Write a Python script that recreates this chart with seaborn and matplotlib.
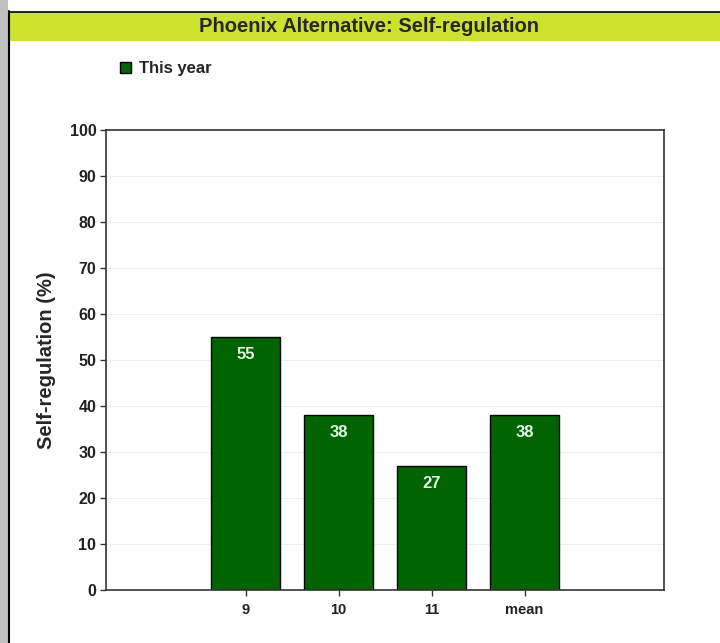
import matplotlib.pyplot as plt
from matplotlib.patches import Rectangle
from matplotlib.lines import Line2D
import seaborn as sns

categories = ['9', '10', '11', 'mean']
values = [55, 38, 27, 38]
series_name = 'This year'
title = 'Phoenix Alternative: Self-regulation'
y_label = 'Self-regulation (%)'

bar_color = '#006400'
title_bg = '#cce22c'

sns.set_style('white')
plt.rcParams['font.family'] = ['Liberation Sans', 'DejaVu Sans']

fig = plt.figure(figsize=(7.2, 6.43), dpi=100)
W, H = 720, 643

# page frame: gray strip on the left, title bar across the top
fig.patches.append(Rectangle((0, 0), 8 / W, 1, transform=fig.transFigure,
                             facecolor='#c0c0c0', edgecolor='none'))
fig.patches.append(Rectangle((10 / W, 1 - 41 / H), 1, 29 / H, transform=fig.transFigure,
                             facecolor=title_bg, edgecolor='none'))
fig.lines.append(Line2D([9 / W, 9 / W], [0, 1 - 11 / H], transform=fig.transFigure,
                        color='black', lw=1.5))
fig.lines.append(Line2D([9 / W, 1], [1 - 11.5 / H, 1 - 11.5 / H], transform=fig.transFigure,
                        color='black', lw=1.2))
fig.text(369 / W, 1 - 27 / H, title, ha='center', va='center',
         fontsize=14.5, fontweight='bold')

ax = fig.add_axes([106 / W, 53 / H, 558 / W, 460 / H])
sns.barplot(x=categories, y=values, color=bar_color, saturation=1, width=0.74,
            edgecolor='black', linewidth=1, label=series_name, legend=False, ax=ax)

ax.set_xlim(-1.5, 4.5)
ax.set_ylim(0, 100)
ax.set_yticks(range(0, 101, 10))
ax.yaxis.grid(True, color='#eeeeee', lw=0.8)
ax.set_axisbelow(True)
for s in ax.spines.values():
    s.set_color('#333333')
    s.set_linewidth(1.2)
ax.tick_params(axis='both', length=4, width=1, color='#333333', pad=3)
ax.tick_params(axis='y', left=True, labelsize=11.5)
ax.tick_params(axis='x', bottom=True, labelsize=10.5, pad=5)
for lbl in ax.get_xticklabels() + ax.get_yticklabels():
    lbl.set_fontweight('bold')
    lbl.set_color('#222222')
ax.set_xlabel('')
ax.set_ylabel(y_label, fontsize=14.5, fontweight='bold', labelpad=10)

for cont in ax.containers:
    ax.bar_label(cont, labels=[str(v) for v in values], padding=-18,
                 color='#e8f4e8', fontsize=12, fontweight='bold')

handles, labels = ax.get_legend_handles_labels()
if ax.get_legend() is not None:
    ax.get_legend().remove()
fig.legend(handles, labels, loc='center left', bbox_to_anchor=(112 / W, 1 - 69 / H),
           frameon=False, prop={'weight': 'bold', 'size': 12},
           handlelength=0.65, handleheight=0.65, handletextpad=0.45, borderpad=0)

fig.savefig('out.png', dpi=100)
